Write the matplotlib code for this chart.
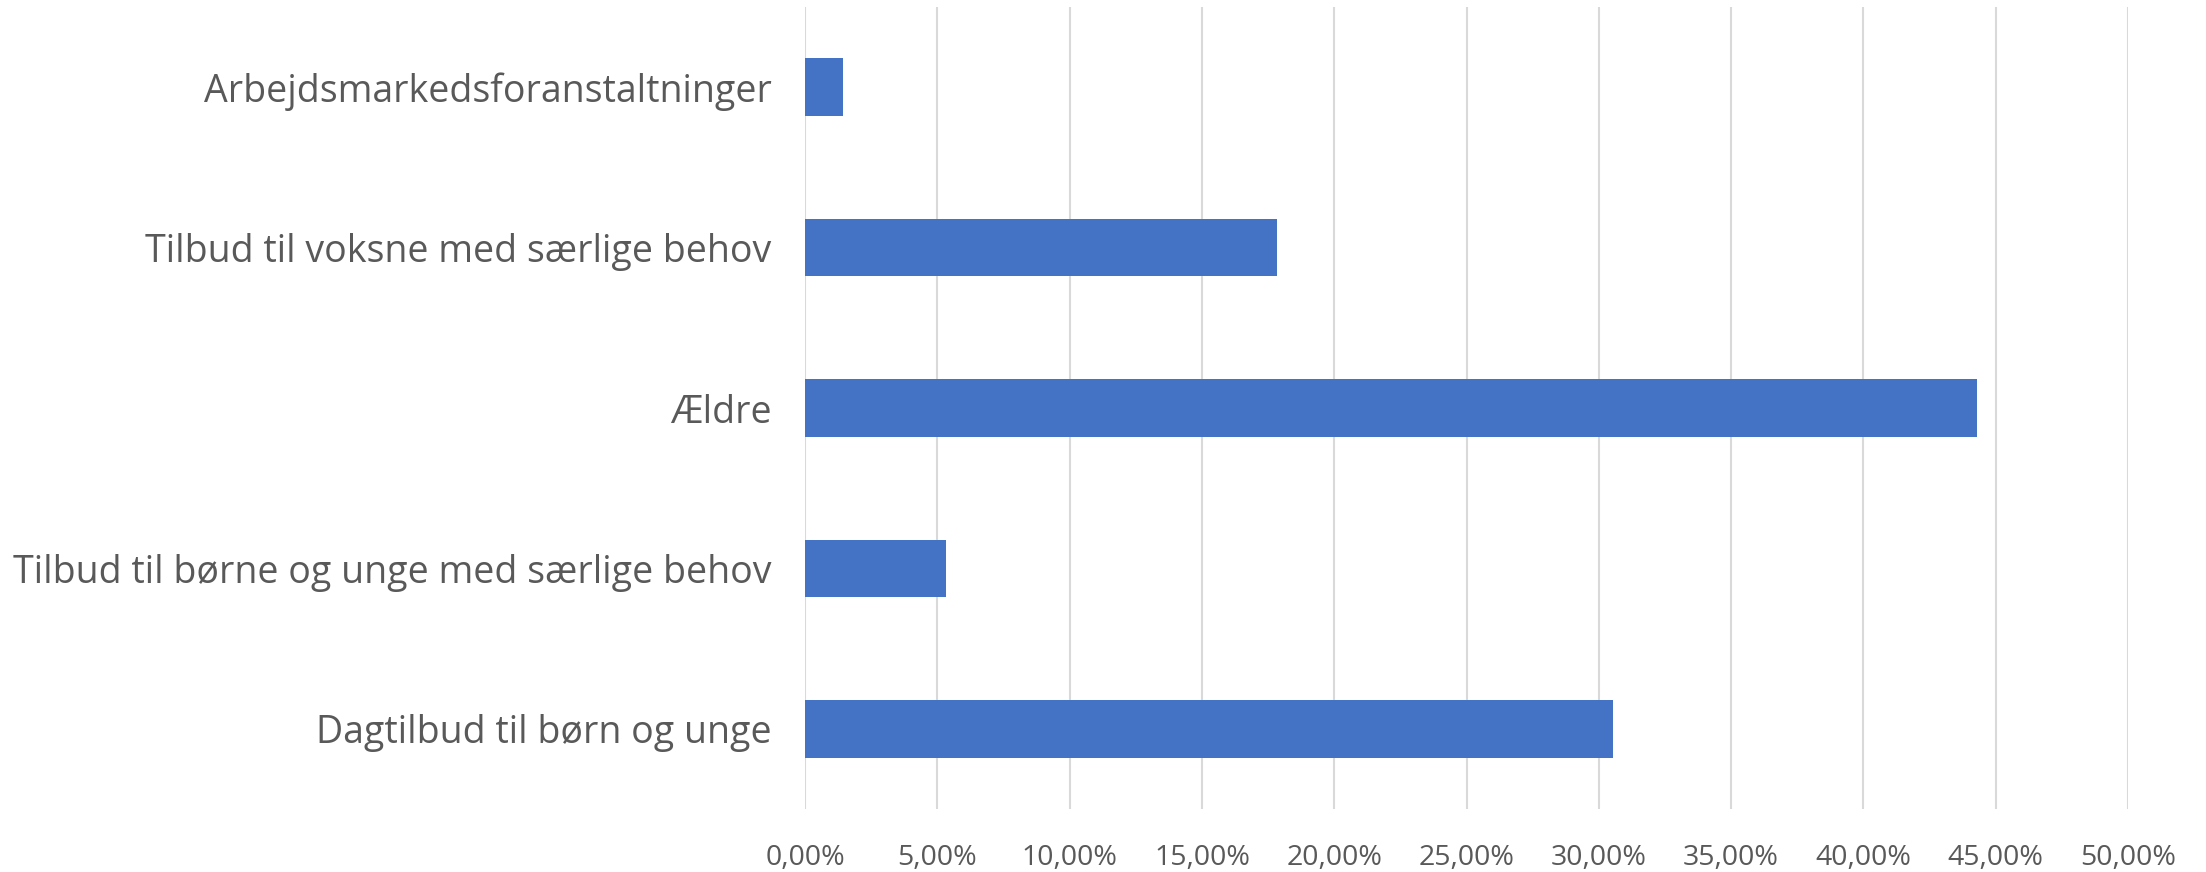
import numpy as np
import matplotlib
matplotlib.use("Agg")
import matplotlib.pyplot as plt
from matplotlib.ticker import FuncFormatter

# ======= Data (share of total, in %) =======
categories = [
    "Arbejdsmarkedsforanstaltninger",
    "Tilbud til voksne med særlige behov",
    "Ældre",
    "Tilbud til børne og unge med særlige behov",
    "Dagtilbud til børn og unge",
]
shares = [1.44, 17.84, 44.29, 5.33, 30.54]
x_ticks = [0, 5, 10, 15, 20, 25, 30, 35, 40, 45, 50]

bar_color = "#4472C4"
text_color = "#595959"
grid_color = "#D9D9D9"

plt.rcParams['font.family'] = ['Open Sans', 'DejaVu Sans']

fig = plt.figure(figsize=(22.06, 8.72), dpi=100)
ax = fig.add_axes([805 / 2206, 63 / 872, (2128 - 805) / 2206, (865 - 63) / 872])

y = np.arange(len(categories))
ax.barh(y, shares, height=0.36, color=bar_color, zorder=3)
ax.set_yticks(y)
ax.set_yticklabels(categories, fontsize=27, color=text_color)
ax.invert_yaxis()
ax.set_ylim(len(categories) - 0.5, -0.5)

ax.set_xlim(0, 50)
ax.set_xticks(x_ticks)
ax.xaxis.set_major_formatter(FuncFormatter(lambda v, _: f"{v:.2f}%".replace(".", ",")))
ax.tick_params(axis='x', labelsize=20.5, colors=text_color, length=0, pad=25)
ax.tick_params(axis='y', length=0, pad=24)

ax.grid(axis='x', color=grid_color, linewidth=1.5, zorder=0)
for s in ax.spines.values():
    s.set_visible(False)

fig.savefig("out.png", dpi=100, facecolor="white")
